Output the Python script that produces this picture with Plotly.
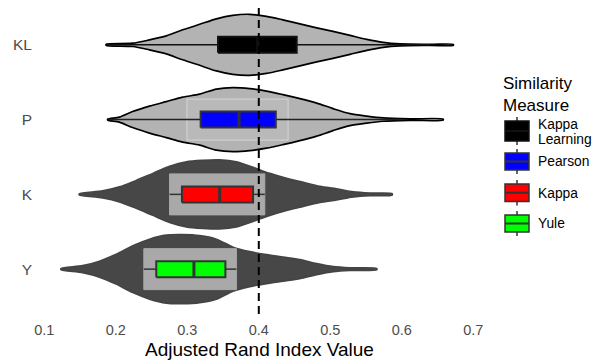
import plotly.graph_objects as go

# ---------------- data ----------------
categories = ["Y", "K", "P", "KL"]          # bottom -> top
legend_title = "Similarity<br>Measure"
legend_labels = [["Kappa", "Learning"], ["Pearson"], ["Kappa"], ["Yule"]]

# violin density profiles: x values and half-width (in pixels of the original)
kl_x = [0.1865, 0.2234, 0.247, 0.2706, 0.2935, 0.3173, 0.3407, 0.3636, 0.3874, 0.4108,
        0.4337, 0.4575, 0.481, 0.5038, 0.5276, 0.551, 0.5739, 0.5977, 0.64, 0.672]
kl_w = [0.5, 1.7, 5, 9, 15, 20.5, 26, 29.5, 30.5, 28.5, 25, 21, 17, 13.5, 9.5, 5.5, 2.5, 1, 0.6, 0.5]

p_x = [0.1887, 0.205, 0.2234, 0.247, 0.2706, 0.2935, 0.3173, 0.3407, 0.3636, 0.3874, 0.4108,
       0.4337, 0.4575, 0.481, 0.5038, 0.5276, 0.551, 0.5739, 0.612, 0.658]
p_w = [0.5, 2.5, 8, 13.5, 18, 22.5, 25.5, 30.5, 32, 31, 28.5, 25, 21, 16.5, 11, 6, 3.5, 1.7, 0.8, 0.5]

k_x = [0.149, 0.1817, 0.2051, 0.2286, 0.2518, 0.2752, 0.2987, 0.3215, 0.3453, 0.3687, 0.392,
       0.4154, 0.4389, 0.4621, 0.4855, 0.5089, 0.5322, 0.5556, 0.5865]
k_w = [0.5, 3.5, 7.5, 14, 21, 28, 32.5, 34, 34.5, 32.5, 27, 21, 16, 12, 8, 5.5, 2.5, 1.3, 0.8]

y_x = [0.1234, 0.1537, 0.1771, 0.2005, 0.2238, 0.2472, 0.2706, 0.2939, 0.3173, 0.3407, 0.364,
       0.3874, 0.4108, 0.4341, 0.4575, 0.481, 0.5042, 0.5276, 0.565]
y_w = [0.5, 3.5, 8, 15, 23.5, 30, 34, 34.5, 33.5, 30, 22, 17.5, 14.5, 12, 9.5, 5.5, 2.5, 1.3, 0.6]

profiles_x = [y_x, k_x, p_x, kl_x]
profiles_w = [y_w, k_w, p_w, kl_w]

# box statistics (bottom -> top: Y, K, P, KL)
q1 = [0.2566, 0.2925, 0.3187, 0.343]
median = [0.3093, 0.3453, 0.3724, 0.3986]
q3 = [0.3533, 0.392, 0.4238, 0.453]
lowerfence = [0.2392, 0.2752, 0.19, 0.19]
upperfence = [0.3687, 0.4084, 0.60, 0.64]

# light background rectangles behind boxes (None = none)
rect_lo = [0.2392, 0.2752, 0.2995, None]
rect_hi = [0.3687, 0.4084, 0.441, None]

reference_value = 0.4
x_ticks = [0.1, 0.2, 0.3, 0.4, 0.5, 0.6, 0.7]

# ---------------- styles ----------------
violin_fill = ["#474747", "#474747", "#b3b3b3", "#b3b3b3"]
violin_line = ["#444444", "#444444", "#000000", "#000000"]
rect_fill = ["#a9a9a9", "#a9a9a9", "#b9b9b9", None]
rect_line = ["#a9a9a9", "#a9a9a9", "#d6d6d6", None]
box_fill = ["#00ff00", "#ff0000", "#0000ff", "#000000"]
box_line = ["#333333", "#333333", "#333333", "#111111"]
whisker_col = ["#333333", "#333333", "#222222", "#111111"]

# page offset caused by default body margin (8px)
OFF = 8
W, H = 608 - OFF, 364 - OFF
L, R, T, B = 40 - OFF, 129, 0, 50
plot_w, plot_h = W - L - R, H - T - B
px_per_unit = 74.76
y_bottom = -0.6
y_range = [y_bottom, y_bottom + plot_h / px_per_unit]

fig = go.Figure()

# violins
for i in range(4):
    xs = profiles_x[i]
    ws = [w / px_per_unit for w in profiles_w[i]]
    px = xs + xs[::-1]
    py = [i + w for w in ws] + [i - w for w in ws[::-1]]
    fig.add_trace(go.Scatter(x=px + [px[0]], y=py + [py[0]], mode="lines", fill="toself",
                             fillcolor=violin_fill[i],
                             line=dict(color=violin_line[i], width=1.6, shape="spline", smoothing=0.8),
                             hoverinfo="skip", showlegend=False))

# light rectangles
rh = 20.5 / px_per_unit
for i in range(4):
    if rect_lo[i] is None:
        continue
    a, b = rect_lo[i], rect_hi[i]
    fig.add_trace(go.Scatter(x=[a, b, b, a, a], y=[i - rh, i - rh, i + rh, i + rh, i - rh],
                             mode="lines", fill="toself", fillcolor=rect_fill[i],
                             line=dict(color=rect_line[i], width=1),
                             hoverinfo="skip", showlegend=False))

# whiskers, boxes, medians
bh = 8 / px_per_unit
for i in range(4):
    fig.add_trace(go.Scatter(x=[lowerfence[i], q1[i], None, q3[i], upperfence[i]],
                             y=[i, i, None, i, i], mode="lines",
                             line=dict(color=whisker_col[i], width=1.5),
                             hoverinfo="skip", showlegend=False))
    a, b = q1[i], q3[i]
    fig.add_trace(go.Scatter(x=[a, b, b, a, a], y=[i - bh, i - bh, i + bh, i + bh, i - bh],
                             mode="lines", fill="toself", fillcolor=box_fill[i],
                             line=dict(color=box_line[i], width=2),
                             hoverinfo="skip", showlegend=False))
    fig.add_trace(go.Scatter(x=[median[i], median[i]], y=[i - bh, i + bh], mode="lines",
                             line=dict(color=box_line[i], width=3),
                             hoverinfo="skip", showlegend=False))

# helpers: page pixel -> paper coords
def pxx(v):
    return (v - OFF - L) / plot_w

def pxy(v):
    return (OFF + T + plot_h - v) / plot_h

shapes = [dict(type="line", xref="x", yref="paper", x0=reference_value, x1=reference_value,
               y0=pxy(314), y1=pxy(0), line=dict(color="black", width=2, dash="8px,5px"), layer="above")]

annotations = [dict(text=legend_title, x=pxx(501), y=pxy(94), xref="paper", yref="paper",
                    xanchor="left", yanchor="middle", showarrow=False, align="left",
                    font=dict(size=17, color="black", family="Liberation Sans"))]

key_top = [121, 153, 184, 215]
key_bot = [141, 170, 201.5, 232]
key_text_y = [[124, 139], [161.5], [193], [223.5]]
key_colors = ["#000000", "#0000ff", "#ff0000", "#00ff00"]
for j in range(4):
    t, b = key_top[j], key_bot[j]
    edge = "#333333" if j else "#111111"
    shapes.append(dict(type="line", xref="paper", yref="paper", x0=pxx(517), x1=pxx(517),
                       y0=pxy(t - 4), y1=pxy(b + 4), line=dict(color="#333333", width=1.5)))
    shapes.append(dict(type="rect", xref="paper", yref="paper", x0=pxx(505), x1=pxx(529),
                       y0=pxy(b), y1=pxy(t), fillcolor=key_colors[j],
                       line=dict(color=edge, width=1.5)))
    m = (t + b) / 2
    shapes.append(dict(type="line", xref="paper", yref="paper", x0=pxx(505), x1=pxx(529),
                       y0=pxy(m), y1=pxy(m), line=dict(color=edge, width=2)))
    for txt, yy in zip(legend_labels[j], key_text_y[j]):
        annotations.append(dict(text=txt, x=pxx(536), y=pxy(yy),
                                xref="paper", yref="paper", xanchor="left", yanchor="middle",
                                showarrow=False,
                                font=dict(size=13.8, color="black", family="Liberation Sans")))

fig.update_layout(
    width=W, height=H, margin=dict(l=L, r=R, t=T, b=B, autoexpand=False),
    paper_bgcolor="white", plot_bgcolor="white",
    shapes=shapes, annotations=annotations, showlegend=False,
    font=dict(family="Liberation Sans"),
    xaxis=dict(range=[0.094, 0.708], tickvals=x_ticks, ticktext=[str(v) for v in x_ticks],
               showgrid=False, zeroline=False, showline=False, ticks="",
               tickfont=dict(size=14.5, color="#4d4d4d"), ticklabelstandoff=5,
               title=dict(text="Adjusted Rand Index Value", font=dict(size=19, color="black"), standoff=6)),
    yaxis=dict(range=y_range, tickvals=list(range(4)), ticktext=categories,
               showgrid=False, zeroline=False, showline=False, ticks="",
               tickfont=dict(size=15.5, color="#4d4d4d"), ticklabelstandoff=7),
)

fig.write_html("out.html")
